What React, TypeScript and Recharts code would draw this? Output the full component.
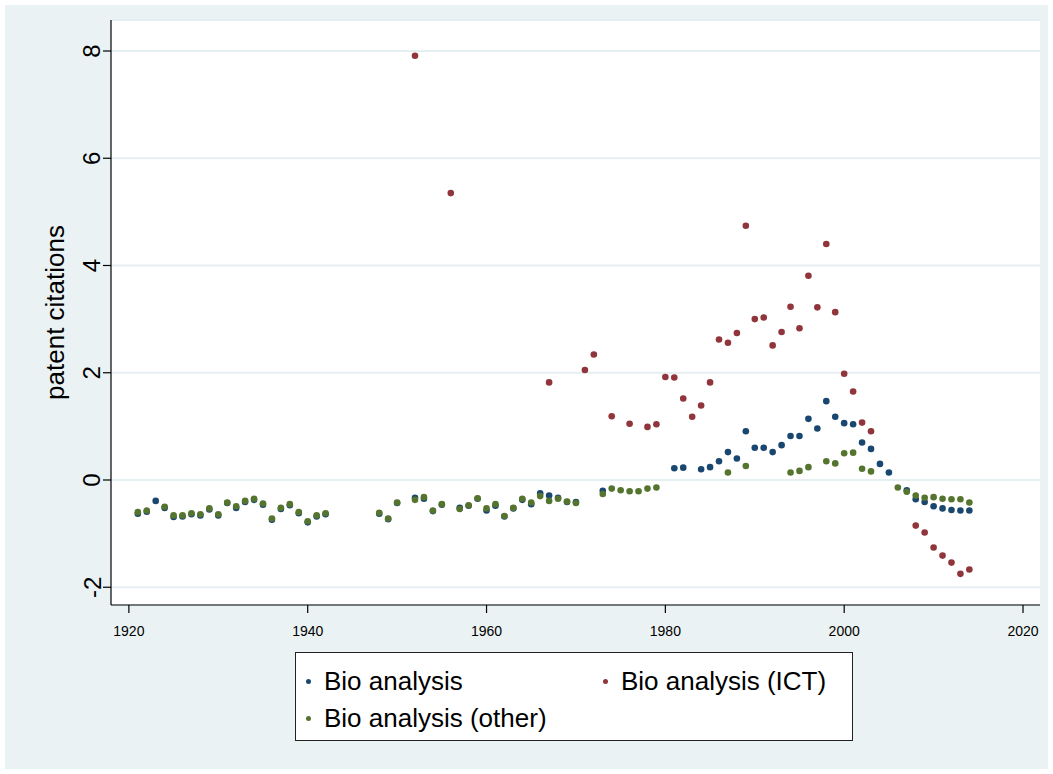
import { ScatterChart, Scatter, XAxis, YAxis, CartesianGrid } from "recharts"

// Bio analysis (navy)
const bioYears = [
  1921, 1922, 1923, 1924, 1925, 1926, 1927, 1928, 1929, 1930, 1931, 1932, 1933, 1934, 1935, 1936, 1937, 1938, 1939, 1940, 1941, 1942,
  1948, 1949, 1950, 1952, 1953, 1954, 1955, 1957, 1958, 1959, 1960, 1961, 1962, 1963, 1964, 1965, 1966, 1967, 1968, 1969, 1970,
  1973,
  1981, 1982, 1984, 1985, 1986, 1987, 1988, 1989, 1990, 1991, 1992, 1993, 1994, 1995, 1996, 1997, 1998, 1999, 2000, 2001, 2002, 2003, 2004, 2005,
  2007, 2008, 2009, 2010, 2011, 2012, 2013, 2014,
]
const bioValues = [
  -0.63, -0.59, -0.39, -0.52, -0.69, -0.68, -0.64, -0.66, -0.55, -0.66, -0.43, -0.52, -0.41, -0.37, -0.46, -0.74, -0.54, -0.47, -0.62, -0.79, -0.68, -0.64,
  -0.63, -0.73, -0.43, -0.33, -0.35, -0.58, -0.46, -0.52, -0.48, -0.35, -0.57, -0.48, -0.68, -0.53, -0.37, -0.45, -0.25, -0.29, -0.33, -0.41, -0.41,
  -0.2,
  0.22, 0.23, 0.2, 0.24, 0.35, 0.52, 0.4, 0.91, 0.6, 0.6, 0.52, 0.65, 0.82, 0.82, 1.14, 0.96, 1.47, 1.18, 1.06, 1.04, 0.7, 0.58, 0.3, 0.14,
  -0.19, -0.36, -0.41, -0.49, -0.53, -0.56, -0.57, -0.57,
]

// Bio analysis (ICT) (maroon)
const ictYears = [
  1952, 1956, 1967, 1971, 1972, 1974, 1976, 1978, 1979, 1980, 1981, 1982, 1983, 1984, 1985, 1986, 1987, 1988, 1989, 1990,
  1991, 1992, 1993, 1994, 1995, 1996, 1997, 1998, 1999, 2000, 2001, 2002, 2003,
  2008, 2009, 2010, 2011, 2012, 2013, 2014,
]
const ictValues = [
  7.91, 5.35, 1.82, 2.05, 2.34, 1.19, 1.05, 0.99, 1.04, 1.92, 1.91, 1.52, 1.18, 1.39, 1.82, 2.62, 2.56, 2.74, 4.74, 3.0,
  3.03, 2.51, 2.76, 3.23, 2.83, 3.81, 3.22, 4.4, 3.13, 1.98, 1.65, 1.07, 0.91,
  -0.85, -0.98, -1.26, -1.41, -1.54, -1.75, -1.67,
]

// Bio analysis (other) (forest green)
const otherYears = [
  1921, 1922, 1924, 1925, 1926, 1927, 1928, 1929, 1930, 1931, 1932, 1933, 1934, 1935, 1936, 1937, 1938, 1939, 1940, 1941, 1942,
  1948, 1949, 1950, 1952, 1953, 1954, 1955, 1957, 1958, 1959, 1960, 1961, 1962, 1963, 1964, 1965, 1966, 1967, 1968, 1969, 1970,
  1973, 1974, 1975, 1976, 1977, 1978, 1979,
  1987, 1989, 1994, 1995, 1996, 1998, 1999, 2000, 2001, 2002, 2003,
  2006, 2007, 2008, 2009, 2010, 2011, 2012, 2013, 2014,
]
const otherValues = [
  -0.6, -0.57, -0.5, -0.66, -0.66, -0.62, -0.64, -0.53, -0.64, -0.42, -0.49, -0.39, -0.35, -0.44, -0.72, -0.52, -0.45, -0.6, -0.77, -0.66, -0.62,
  -0.61, -0.72, -0.42, -0.37, -0.32, -0.57, -0.45, -0.54, -0.47, -0.34, -0.53, -0.45, -0.67, -0.52, -0.35, -0.42, -0.3, -0.39, -0.35, -0.4, -0.43,
  -0.26, -0.16, -0.19, -0.21, -0.21, -0.16, -0.14,
  0.14, 0.26, 0.14, 0.17, 0.24, 0.35, 0.31, 0.5, 0.51, 0.21, 0.16,
  -0.14, -0.22, -0.29, -0.33, -0.32, -0.35, -0.36, -0.36, -0.42,
]

const xTicks = [1920, 1940, 1960, 1980, 2000, 2020]
const yTicks = [-2, 0, 2, 4, 6, 8]

const NAVY = "#1a476f"
const MAROON = "#90353b"
const GREEN = "#55752f"
const FONT = "'Liberation Sans', Arial, Helvetica, sans-serif"

const toPoints = (years: number[], values: number[]) => years.map((year, i) => ({ year, value: values[i] }))

const bioData = toPoints(bioYears, bioValues)
const ictData = toPoints(ictYears, ictValues)
const otherData = toPoints(otherYears, otherValues)

const dot = (color: string) => (props: any) => <circle cx={props.cx} cy={props.cy} r={3.3} fill={color} />

const YTick = ({ x, y, payload }: any) => (
  <text
    x={x - 9}
    y={y}
    transform={`rotate(-90, ${x - 9}, ${y})`}
    textAnchor="middle"
    dominantBaseline="central"
    fontSize={24}
    fontFamily={FONT}
    fill="#000"
  >
    {payload.value}
  </text>
)

const XTick = ({ x, y, payload }: any) => (
  <text x={x} y={y + 21} textAnchor="middle" fontSize={14} fontFamily="'Liberation Sans Narrow', 'Liberation Sans', Arial, sans-serif" fill="#000">
    {payload.value}
  </text>
)

const legendItems = [
  { label: "Bio analysis", color: NAVY, left: 10, top: 13 },
  { label: "Bio analysis (ICT)", color: MAROON, left: 307, top: 13 },
  { label: "Bio analysis (other)", color: GREEN, left: 10, top: 50 },
]

export default function App() {
  return (
    <div style={{ position: "absolute", left: 0, top: 0, width: 1053, height: 774, background: "#fff" }}>
      <div style={{ position: "absolute", left: 5, top: 5, width: 1043, height: 764, background: "#eaf2f3" }} />
      <div style={{ position: "absolute", left: 0, top: 0 }}>
        <ScatterChart width={1053} height={774} margin={{ top: 20, right: 13, bottom: 129, left: 51 }}>
          <CartesianGrid vertical={false} horizontal stroke="#e5eef1" strokeWidth={2} fill="#fff" />
          <XAxis
            type="number"
            dataKey="year"
            domain={[1918, 2021.9]}
            ticks={xTicks}
            allowDataOverflow
            height={40}
            tickSize={8}
            tick={<XTick />}
            axisLine={{ stroke: "#000", strokeWidth: 1.2 }}
            tickLine={{ stroke: "#000", strokeWidth: 1.2 }}
          />
          <YAxis
            type="number"
            dataKey="value"
            domain={[-2.331, 8.578]}
            ticks={yTicks}
            allowDataOverflow
            width={60}
            tickSize={8}
            tick={<YTick />}
            axisLine={{ stroke: "#000", strokeWidth: 1.2 }}
            tickLine={{ stroke: "#000", strokeWidth: 1.2 }}
            label={{
              value: "patent citations",
              angle: -90,
              position: "insideLeft",
              dx: -1,
              style: { textAnchor: "middle", fontSize: 26, fontFamily: FONT, fill: "#000" },
            }}
          />
          <Scatter name="Bio analysis" data={bioData} fill={NAVY} shape={dot(NAVY)} isAnimationActive={false} />
          <Scatter name="Bio analysis (ICT)" data={ictData} fill={MAROON} shape={dot(MAROON)} isAnimationActive={false} />
          <Scatter name="Bio analysis (other)" data={otherData} fill={GREEN} shape={dot(GREEN)} isAnimationActive={false} />
        </ScatterChart>
      </div>
      <div
        style={{
          position: "absolute",
          left: 295,
          top: 652,
          width: 556,
          height: 87,
          background: "#fff",
          border: "1px solid #222",
          fontFamily: FONT,
          fontSize: 26,
          color: "#000",
        }}
      >
        {legendItems.map((item) => (
          <div key={item.label} style={{ position: "absolute", left: item.left, top: item.top, display: "flex", alignItems: "center", lineHeight: "30px" }}>
            <span style={{ width: 5, height: 5, borderRadius: "50%", background: item.color, marginRight: 13 }} />
            <span>{item.label}</span>
          </div>
        ))}
      </div>
    </div>
  )
}
